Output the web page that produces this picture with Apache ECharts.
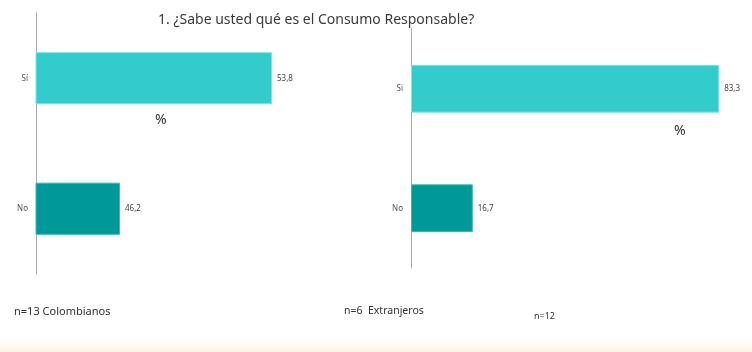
<!DOCTYPE html>
<html>
<head>
<meta charset="utf-8">
<script src="https://cdn.jsdelivr.net/npm/echarts@6/dist/echarts.min.js"></script>
<style>html,body{margin:0;padding:0;background:#fff;}#c{width:752px;height:352px;}</style>
</head>
<body>
<div id="c"></div>
<script>
const categoriesLeft = ['Sí', 'No'];
const valuesLeft = [53.8, 46.2];
const categoriesRight = ['Si', 'No'];
const valuesRight = [83.3, 16.7];
const barColors = ['#33CCCC', '#009999'];
const titleText = '1. ¿Sabe usted qué es el Consumo Responsable?';
const notes = ['n=13 Colombianos', 'n=6  Extranjeros', 'n=12'];

const FONT = 'Noto Sans';
const chart = echarts.init(document.getElementById('c'), null, {renderer: 'canvas'});

function catAxis(idx, cats) {
  return {
    type: 'category', gridIndex: idx, data: cats, inverse: true,
    axisLine: {show: true, lineStyle: {color: '#aaaaaa', width: 1}},
    axisTick: {show: false},
    axisLabel: {fontSize: 8, color: '#555', margin: 8, fontFamily: FONT},
    splitLine: {show: false}
  };
}
function barSeries(idx, vals) {
  return {
    type: 'bar', xAxisIndex: idx, yAxisIndex: idx,
    barCategoryGap: '60%',
    data: vals.map((v, i) => ({value: v, itemStyle: {color: barColors[i], borderColor: i === 0 ? '#7fe3e3' : '#40b5b5', borderWidth: 1}})),
    label: {show: true, position: 'right', distance: 5, fontSize: 8, color: '#444', fontFamily: FONT,
      formatter: p => String(p.value).replace('.', ',')},
    silent: true
  };
}

chart.setOption({
  animation: false,
  backgroundColor: '#fff',
  grid: [
    {left: 36, top: 13, width: 300, height: 261},
    {left: 411, top: 29, width: 333, height: 239}
  ],
  xAxis: [
    {type: 'value', gridIndex: 0, min: 42, max: 57, show: false},
    {type: 'value', gridIndex: 1, min: 0, max: 90, show: false}
  ],
  yAxis: [catAxis(0, categoriesLeft), catAxis(1, categoriesRight)],
  series: [barSeries(0, valuesLeft), barSeries(1, valuesRight)],
  graphic: [
    {type: 'rect', left: 0, top: 338, shape: {width: 752, height: 14}, silent: true, z: -1,
      style: {fill: new echarts.graphic.LinearGradient(0, 0, 0, 1, [{offset: 0, color: 'rgba(253,240,222,0)'}, {offset: 1, color: 'rgba(252,236,214,0.6)'}])}},
    {type: 'text', left: 158, top: 13, style: {text: titleText, fontSize: 14, fill: '#3a3a3a', fontFamily: FONT}},
    {type: 'text', left: 155, top: 113, style: {text: '%', fontSize: 14, fill: '#333', fontFamily: FONT}},
    {type: 'text', left: 674, top: 124, style: {text: '%', fontSize: 14, fill: '#333', fontFamily: FONT}},
    {type: 'text', left: 14, top: 306, style: {text: notes[0], fontSize: 11, fill: '#333', fontFamily: FONT}},
    {type: 'text', left: 344, top: 306, style: {text: notes[1], fontSize: 10.5, fill: '#333', fontFamily: FONT}},
    {type: 'text', left: 534, top: 312, style: {text: notes[2], fontSize: 9, fill: '#333', fontFamily: FONT}}
  ]
});
</script>
</body>
</html>
